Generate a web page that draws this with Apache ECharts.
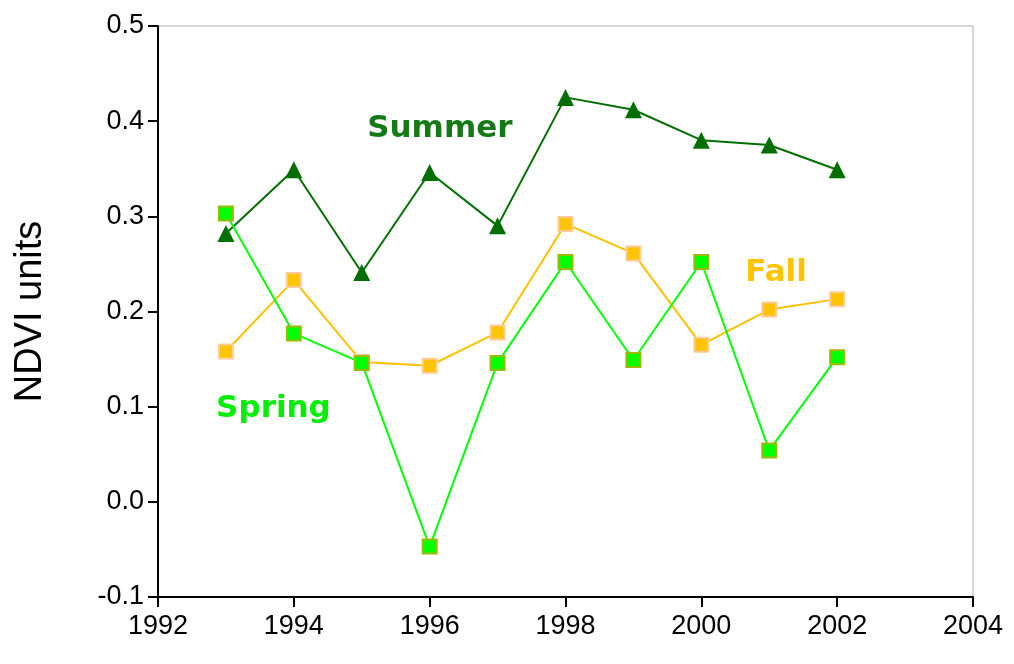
<!DOCTYPE html>
<html>
<head>
<meta charset="utf-8">
<script src="https://cdn.jsdelivr.net/npm/echarts@6/dist/echarts.min.js"></script>
<style>
  html, body { margin: 0; padding: 0; background: #fff; }
  #chart { width: 1014px; height: 664px; }
</style>
</head>
<body>
<div id="chart"></div>
<script>
// years and NDVI values
const years = [1993, 1994, 1995, 1996, 1997, 1998, 1999, 2000, 2001, 2002]
const summer = [0.282, 0.349, 0.241, 0.346, 0.290, 0.425, 0.412, 0.380, 0.375, 0.349]
const fall = [0.158, 0.233, 0.147, 0.143, 0.178, 0.292, 0.261, 0.165, 0.202, 0.213]
const spring = [0.303, 0.177, 0.146, -0.047, 0.146, 0.252, 0.149, 0.252, 0.054, 0.152]

// in-plot series names, anchored in data coordinates
const seriesNames = ['Summer', 'Fall', 'Spring']
const nameColors = ['#157a15', '#ffc400', '#00ee00']
const nameAnchors = [[1996.15, 0.392], [2001.1, 0.240], [1993.7, 0.098]]

function pairs(vals) {
    return years.map((y, i) => [y, vals[i]])
}

let chart = echarts.init(document.getElementById('chart'))

const axisFont = {
    color: '#000',
    fontSize: 27,
    fontFamily: '"Liberation Sans", Arial, sans-serif'
}

let option = {
    backgroundColor: '#fff',
    animation: false,
    grid: {
        left: 158,
        right: 41,
        top: 26,
        bottom: 67,
        show: true,
        borderColor: '#b0b0b0',
        borderWidth: 1
    },
    xAxis: {
        type: 'value',
        min: 1992,
        max: 2004,
        interval: 2,
        axisLine: { onZero: false, lineStyle: { color: '#000', width: 2 } },
        axisTick: { show: true, length: 10, lineStyle: { color: '#000', width: 2 } },
        axisLabel: Object.assign({ margin: 16, formatter: v => String(v) }, axisFont),
        splitLine: { show: false }
    },
    yAxis: {
        type: 'value',
        min: -0.1,
        max: 0.5,
        interval: 0.1,
        name: 'NDVI units',
        nameLocation: 'middle',
        nameGap: 108,
        nameTextStyle: {
            color: '#000',
            fontSize: 38,
            fontFamily: '"Liberation Sans", Arial, sans-serif'
        },
        axisLine: { show: true, onZero: false, lineStyle: { color: '#000', width: 2 } },
        axisTick: { show: true, length: 10, lineStyle: { color: '#000', width: 2 } },
        axisLabel: Object.assign({ margin: 14, formatter: v => v.toFixed(1) }, axisFont),
        splitLine: { show: false }
    },
    series: [
        {
            name: 'Summer',
            type: 'line',
            data: pairs(summer),
            symbol: 'triangle',
            symbolSize: 17,
            lineStyle: { color: '#006f00', width: 2 },
            itemStyle: { color: '#006f00' }
        },
        {
            name: 'Fall',
            type: 'line',
            data: pairs(fall),
            symbol: 'rect',
            symbolSize: 14,
            lineStyle: { color: '#ffc000', width: 2 },
            itemStyle: { color: '#ffc400', borderColor: '#ffcc99', borderWidth: 2 }
        },
        {
            name: 'Spring',
            type: 'line',
            data: pairs(spring),
            symbol: 'rect',
            symbolSize: 14,
            lineStyle: { color: '#00ff00', width: 2 },
            itemStyle: { color: '#00ff00', borderColor: '#99bb00', borderWidth: 2 }
        }
    ]
}

chart.setOption(option)

// place the series names as text inside the plot
chart.setOption({
    graphic: seriesNames.map((name, i) => {
        const p = chart.convertToPixel({ gridIndex: 0 }, nameAnchors[i])
        return {
            type: 'text',
            x: p[0],
            y: p[1],
            style: {
                text: name,
                fill: nameColors[i],
                fontSize: 31,
                fontWeight: 'bold',
                fontFamily: '"DejaVu Sans", sans-serif',
                align: 'center',
                verticalAlign: 'middle'
            }
        }
    })
})
</script>
</body>
</html>
